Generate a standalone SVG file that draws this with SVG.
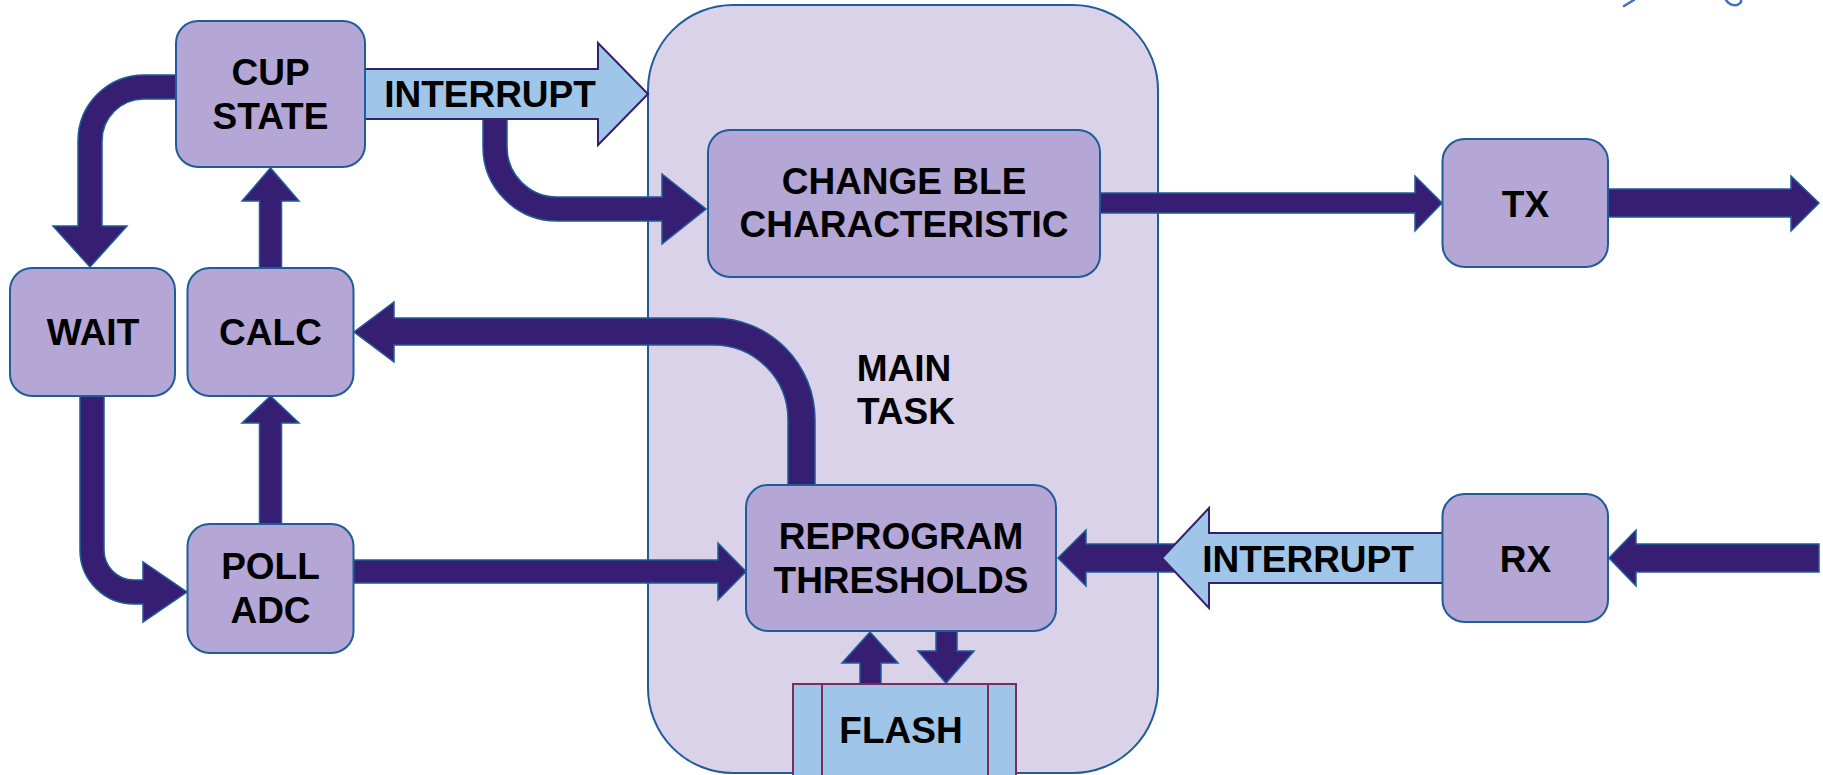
<svg xmlns="http://www.w3.org/2000/svg" width="1823" height="775" viewBox="0 0 1823 775">
<style>
.box{fill:#B4A7D6;stroke:#1F5C99;stroke-width:2}
.cont{fill:#D9D2E9;stroke:#1F5C99;stroke-width:2}
.arr{fill:#361E72;stroke:#1F5C99;stroke-width:1.5;stroke-linejoin:miter}
.blk{fill:#9FC5E8;stroke:#35206E;stroke-width:2}
.flash{fill:#9FC5E8;stroke:#7B2C5A;stroke-width:2}
text{font-family:"Liberation Sans",Arial,sans-serif;font-weight:bold;font-size:37px;fill:#000;text-anchor:middle}
</style>
<rect width="1823" height="775" fill="#FFFFFF"/>
<g id="scribble" fill="none" stroke="#4070C0" stroke-width="2.5" stroke-linecap="round">
<path d="M1624 6 L1634 0"/>
<path d="M1726 0 Q1730 6 1737 5 Q1742 3 1741 0"/>
</g>
<g id="main-task">
<rect class="cont" x="648" y="5" width="510" height="768" rx="85" ry="85"/>
<text x="904" y="381">MAIN</text>
<text x="906" y="424">TASK</text>
</g>
<g id="connectors">
<path class="arr" d="M177 75 H144 A66 66 0 0 0 78 141 V226 H53 L90 267 L127 226 H102 V141 A42 42 0 0 1 144 99 H177 Z"/>
<path class="arr" d="M259.5 268 V201 H242 L270.5 168 L299 201 H281.5 V268 Z"/>
<path class="arr" d="M259.5 524 V423 H242 L270.5 396 L299 423 H281.5 V524 Z"/>
<path class="arr" d="M80 396 V550 A54 54 0 0 0 134 604 H143 V622 L187 592 L143 562 V580 H134 A30 30 0 0 1 104 550 V396 Z"/>
<path class="arr" d="M483 110 V147 A74 74 0 0 0 557 221 H662 V244 L706 209 L662 174 V197 H557 A50 50 0 0 1 507 147 V110 Z"/>
<path class="blk" d="M365 69 H598 V43 L648 94 L598 145 V119 H365 Z"/>
<text x="490" y="107">INTERRUPT</text>
<path class="arr" d="M815 486 V419.5 A101.5 101.5 0 0 0 713.5 318 H394 V302 L354 332 L394 362 V345 H713.5 A74.5 74.5 0 0 1 788 419.5 V486 Z"/>
<path class="arr" d="M353 560 H718 V543 L746 571.5 L718 600 V583 H353 Z"/>
<path class="arr" d="M1100 193 H1415 V176 L1442 203 L1415 231 V213 H1100 Z"/>
<path class="arr" d="M1608 189 H1791 V176 L1819 203 L1791 231 V217 H1608 Z"/>
<path class="arr" d="M1175 544 H1086 V530 L1058 558 L1086 586 V572 H1175 Z"/>
<path class="blk" d="M1443 533 H1209 V508 L1162 558 L1209 608 V583 H1443 Z"/>
<text x="1308" y="572">INTERRUPT</text>
<path class="arr" d="M1819 544 H1636 V530 L1609 558 L1636 586 V572 H1819 Z"/>
<path class="arr" d="M860 685 V663 H842 L870 632 L898 663 H881 V685 Z"/>
<path class="arr" d="M936 630 V651 H918 L946 683 L974 651 H957 V630 Z"/>
</g>
<g id="cup-state">
<rect class="box" x="176" y="21" width="189" height="146" rx="22"/>
<text x="270.5" y="85">CUP</text>
<text x="270.5" y="129">STATE</text>
</g>
<g id="wait">
<rect class="box" x="10" y="268" width="165" height="128" rx="22"/>
<text x="93" y="345">WAIT</text>
</g>
<g id="calc">
<rect class="box" x="187.5" y="268" width="166" height="128" rx="22"/>
<text x="270.5" y="345">CALC</text>
</g>
<g id="poll-adc">
<rect class="box" x="187.5" y="524" width="166" height="129" rx="22"/>
<text x="270.5" y="579">POLL</text>
<text x="270.5" y="623">ADC</text>
</g>
<g id="change-ble">
<rect class="box" x="708" y="130" width="392" height="147" rx="22"/>
<text x="904" y="194">CHANGE BLE</text>
<text x="904" y="237">CHARACTERISTIC</text>
</g>
<g id="reprogram">
<rect class="box" x="746" y="485" width="310" height="146" rx="22"/>
<text x="901" y="549">REPROGRAM</text>
<text x="901" y="593">THRESHOLDS</text>
</g>
<g id="flash">
<rect class="flash" x="793" y="684" width="223" height="100"/>
<line class="flash" x1="822" y1="684" x2="822" y2="784"/>
<line class="flash" x1="988" y1="684" x2="988" y2="784"/>
<text x="901" y="743">FLASH</text>
</g>
<g id="tx">
<rect class="box" x="1442.5" y="139" width="165.5" height="128" rx="22"/>
<text x="1525.5" y="217">TX</text>
</g>
<g id="rx">
<rect class="box" x="1442.5" y="494" width="165.5" height="128" rx="22"/>
<text x="1525.5" y="572">RX</text>
</g>
</svg>
